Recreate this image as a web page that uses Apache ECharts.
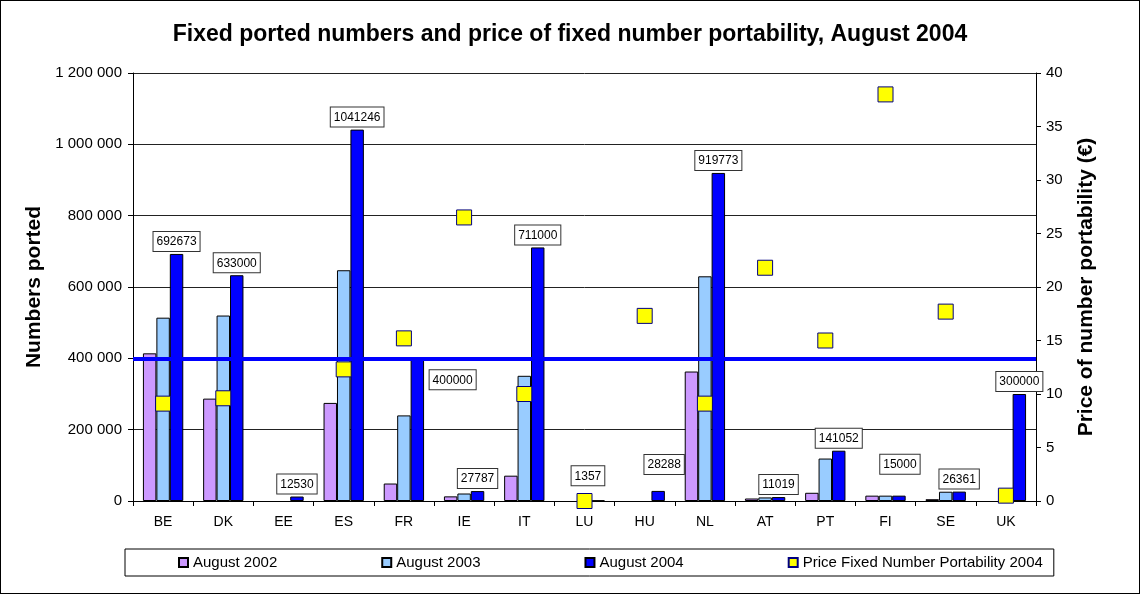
<!DOCTYPE html>
<html>
<head>
<meta charset="utf-8">
<script src="https://cdn.jsdelivr.net/npm/echarts@6/dist/echarts.min.js"></script>
<style>
  html, body { margin: 0; padding: 0; background: #fff; }
  #chart { width: 1140px; height: 594px; box-sizing: border-box; border: 1px solid #000; }
</style>
</head>
<body>
<div id="chart"></div>
<script>
// countries
const countries = ["BE", "DK", "EE", "ES", "FR", "IE", "IT", "LU", "HU", "NL", "AT", "PT", "FI", "SE", "UK"];
// numbers ported
const aug2002 = [414000, 287000, null, 275000, 49000, 13000, 71000, null, null, 363000, 7000, 23000, 15000, 5000, null];
const aug2003 = [514000, 520000, null, 647000, 240000, 21000, 351000, null, null, 630000, 10000, 119000, 15000, 26000, null];
const aug2004 = [692673, 633000, 12530, 1041246, 400000, 27787, 711000, 1357, 28288, 919773, 11019, 141052, 15000, 26361, 300000];
// price of number portability (EUR)
const price2004 = [9.1, 9.6, null, 12.3, 15.2, 26.5, 10.0, 0, 17.3, 9.1, 21.8, 15.0, 38.0, 17.7, 0.5];
// reference line
const refLevel = 400000;

// label boxes that are not sitting right on top of the bar
const labelMoves = {
  FR: { position: [19, 12] },
  LU: { offset: [-10, -12] },
  HU: { offset: [6, -14] },
  FI: { offset: [1, -19] }
};

const font = "Liberation Sans, Arial, sans-serif";
const spaced = v => String(v).replace(/\B(?=(\d{3})+(?!\d))/g, " ");

let option = {
  animation: false,
  textStyle: { fontFamily: font, color: "#000" },
  title: {
    text: "Fixed ported numbers and price of fixed number portability, August 2004",
    left: "center",
    top: 17,
    textStyle: { fontFamily: font, fontSize: 23, fontWeight: "bold", color: "#000" }
  },
  grid: { left: 132, right: 103, top: 72, bottom: 92 },
  legend: {
    left: 124,
    top: 548,
    padding: [6, 11, 6, 53],
    itemGap: 104,
    itemWidth: 9,
    itemHeight: 9,
    icon: "rect",
    borderColor: "#000",
    borderWidth: 1,
    textStyle: { fontFamily: font, fontSize: 15, color: "#000" },
    data: ["August 2002", "August 2003", "August 2004", "Price Fixed Number Portability 2004"]
  },
  xAxis: [{
    type: "category",
    data: countries,
    axisLine: { lineStyle: { color: "#000", width: 1 } },
    axisTick: { show: true, interval: 0, length: 5, lineStyle: { color: "#000" } },
    axisLabel: { interval: 0, margin: 14, fontSize: 14, color: "#000", fontFamily: font }
  }],
  yAxis: [
    {
      type: "value",
      min: 0,
      max: 1200000,
      interval: 200000,
      name: "Numbers ported",
      nameLocation: "middle",
      nameRotate: 90,
      nameGap: 78,
      nameTextStyle: { fontFamily: font, fontSize: 21, fontWeight: "bold", color: "#000" },
      axisLine: { show: true, lineStyle: { color: "#000" } },
      axisTick: { show: true, length: 5, lineStyle: { color: "#000" } },
      axisLabel: { margin: 11, fontSize: 15, color: "#000", fontFamily: font, formatter: spaced },
      splitLine: { show: true, lineStyle: { color: "#222", width: 1 } }
    },
    {
      type: "value",
      position: "right",
      min: 0,
      max: 40,
      interval: 5,
      name: "Price of number portability (€)",
      nameLocation: "middle",
      nameRotate: 90,
      nameGap: 40,
      nameTextStyle: { fontFamily: font, fontSize: 21, fontWeight: "bold", color: "#000" },
      axisLine: { show: true, lineStyle: { color: "#000" } },
      axisTick: { show: true, length: 5, lineStyle: { color: "#000" } },
      axisLabel: { margin: 10, fontSize: 15, color: "#000", fontFamily: font },
      splitLine: { show: false }
    }
  ],
  series: [
    {
      name: "August 2002",
      type: "bar",
      barGap: "0%",
      barCategoryGap: "33%",
      itemStyle: { color: "#CC99FF", borderColor: "#000", borderWidth: 1 },
      data: aug2002
    },
    {
      name: "August 2003",
      type: "bar",
      barGap: "0%",
      barCategoryGap: "33%",
      itemStyle: { color: "#99CCFF", borderColor: "#000", borderWidth: 1 },
      data: aug2003
    },
    {
      name: "August 2004",
      type: "bar",
      barGap: "0%",
      barCategoryGap: "33%",
      itemStyle: { color: "#0000FF", borderColor: "#000", borderWidth: 1 },
      label: {
        show: true,
        position: "top",
        distance: 3,
        fontFamily: font,
        fontSize: 12,
        color: "#000",
        backgroundColor: "#fff",
        borderColor: "#333",
        borderWidth: 1,
        padding: [4, 3, 3, 3]
      },
      markLine: {
        silent: true,
        symbol: "none",
        z: 3,
        label: { show: false },
        lineStyle: { color: "#0000FF", width: 4, type: "solid" },
        data: [{ yAxis: refLevel }]
      },
      data: aug2004.map((v, i) => {
        const move = labelMoves[countries[i]];
        return move ? { value: v, label: move } : v;
      })
    },
    {
      name: "Price Fixed Number Portability 2004",
      type: "scatter",
      yAxisIndex: 1,
      symbol: "rect",
      symbolSize: 15,
      z: 5,
      itemStyle: { color: "#FFFF00", borderColor: "#000080", borderWidth: 1, opacity: 1 },
      data: price2004
    }
  ]
};

const chart = echarts.init(document.getElementById("chart"), null, { renderer: "canvas" });
chart.setOption(option);
</script>
</body>
</html>
